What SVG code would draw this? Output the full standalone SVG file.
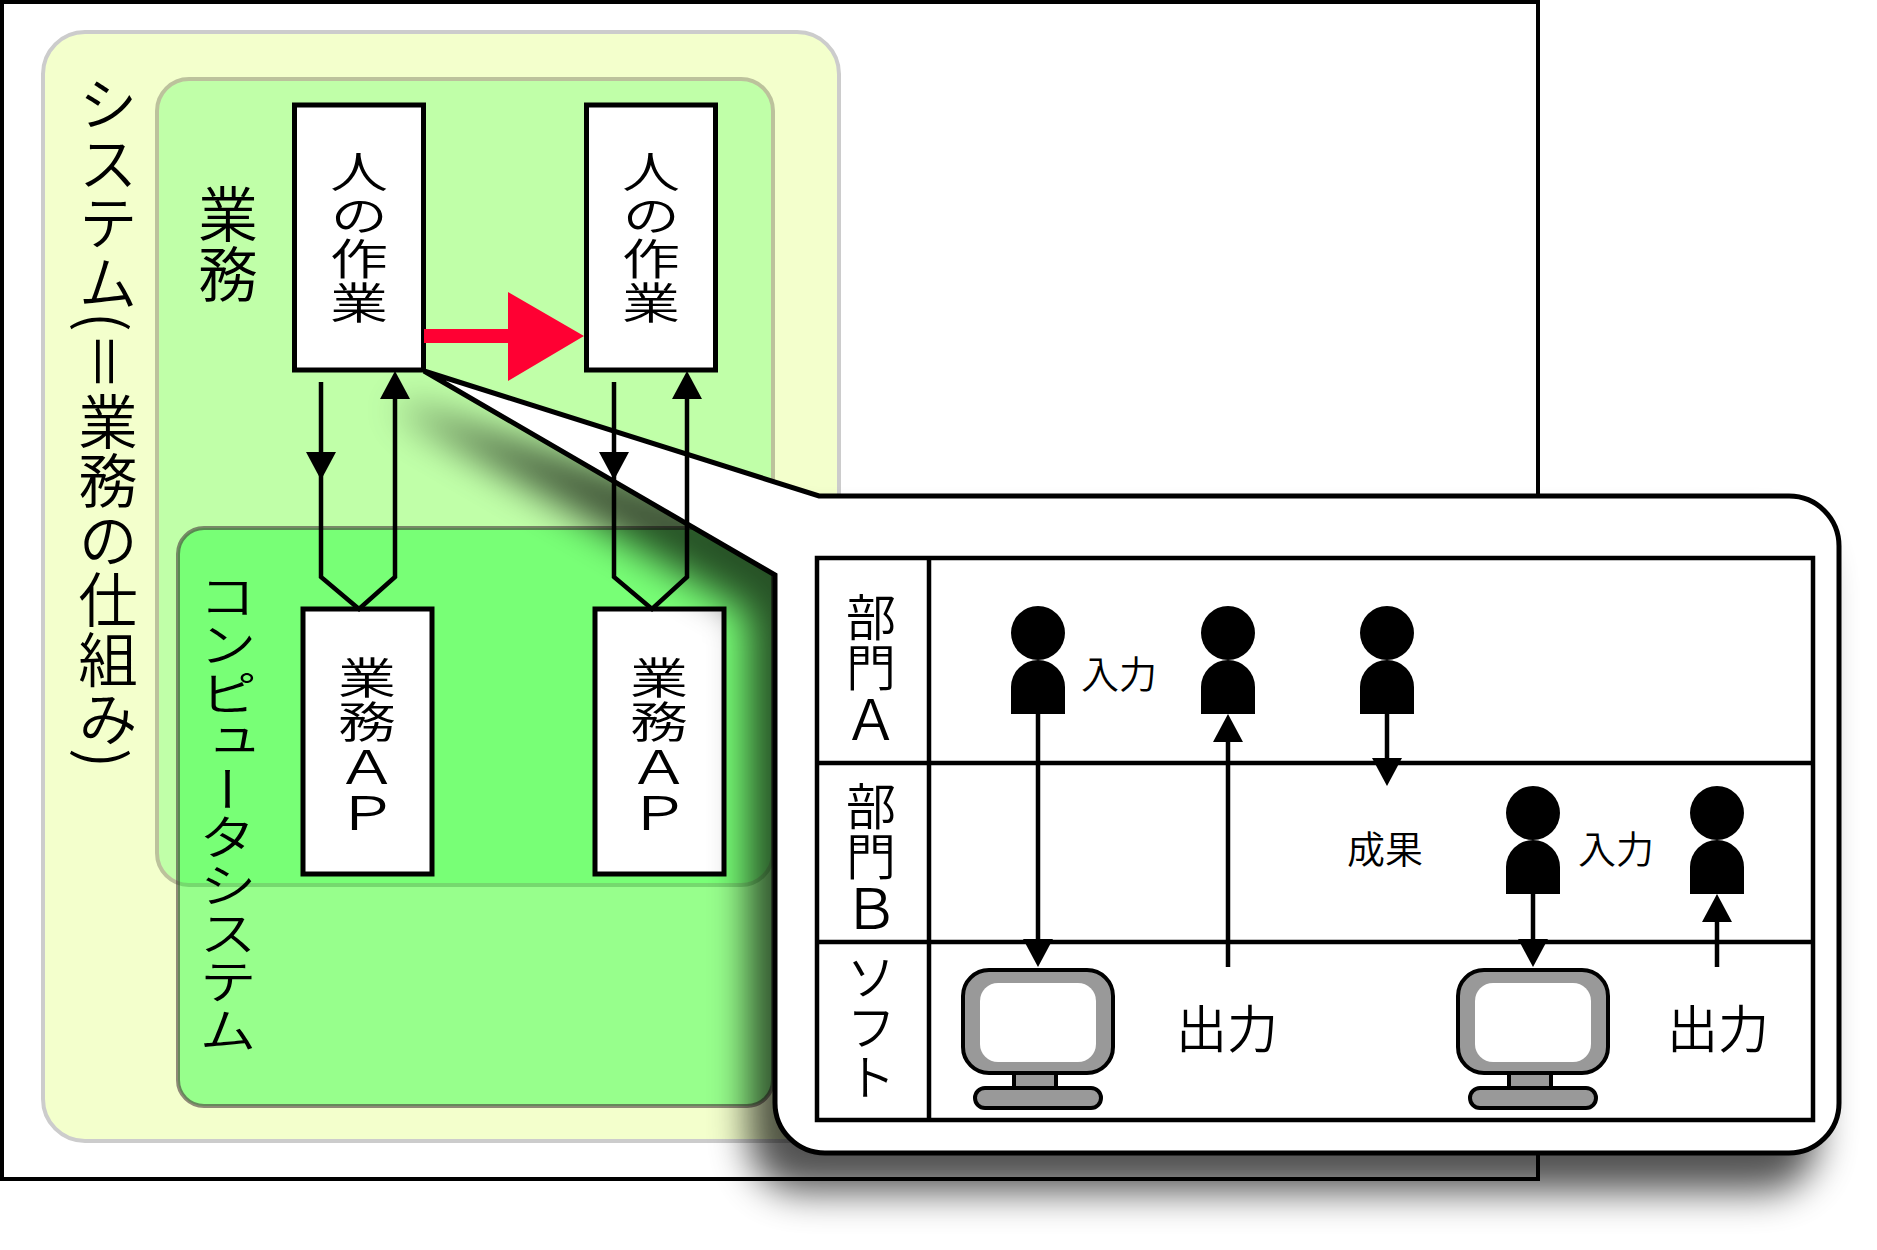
<svg xmlns="http://www.w3.org/2000/svg" width="1877" height="1250" viewBox="0 0 1877 1250">
<style>
text{font-family:"Noto Sans CJK JP","Noto Sans",sans-serif;fill:#000;font-weight:350}
.v{writing-mode:vertical-rl;font-size:50px}
.h{text-anchor:middle}
.box{fill:#fff;stroke:#000;stroke-width:5}
.ln{fill:none;stroke:#000;stroke-width:4.5}
.tb{fill:none;stroke:#000;stroke-width:4.5}
.pc{fill:#999;stroke:#000;stroke-width:4}
</style>
<defs>
<marker id="ah" markerUnits="userSpaceOnUse" markerWidth="32" markerHeight="32" refX="22" refY="15" orient="auto"><path d="M0 0L28 15L0 30Z"/></marker>
<filter id="sh" x="-10%" y="-15%" width="120%" height="135%"><feGaussianBlur in="SourceAlpha" stdDeviation="19"/><feOffset dx="-24" dy="36"/><feComponentTransfer result="s"><feFuncA type="linear" slope=".68"/></feComponentTransfer><feMerge><feMergeNode in="s"/><feMergeNode in="SourceGraphic"/></feMerge></filter>
<g id="person"><circle r="27"/><path d="M-27 81V54A27 27 0 0 1 27 54V81Z"/></g>
<g id="pc">
<rect class="pc" x="-24" y="88" width="42" height="30"/>
<rect class="pc" x="-75" y="0" width="150" height="103" rx="26" ry="26"/>
<rect x="-58" y="13" width="116" height="79" rx="18" fill="#fff"/>
<rect class="pc" x="-63" y="118" width="126" height="20" rx="10"/>
</g>
</defs>
<rect id="frame" x="2" y="2" width="1536" height="1177" fill="#fff" stroke="#000" stroke-width="4"/>
<g id="system"><rect x="43" y="32" width="796" height="1109" rx="42" fill="#f3ffcc" stroke="#ccc" stroke-width="4"/>
<text class="v" x="108" y="74" style="font-size:59.500px">システム(＝業務の仕組み)</text></g>
<g id="gyomu"><rect x="157" y="79" width="616" height="806" rx="32" fill="#c0ffa8" stroke="#bcc29c" stroke-width="4"/>
<text class="v" x="228" y="184" style="font-size:60px">業務</text></g>
<g id="computer"><rect x="178" y="528" width="595" height="578" rx="26" fill="#00ff23" fill-opacity=".375" stroke="#3c2832" stroke-opacity=".55" stroke-width="4"/>
<text class="v" transform="translate(228 572) scale(1 .83)" style="font-size:58px">コンピュータシステム</text></g>
<g id="work1"><rect class="box" x="294.500" y="105" width="129" height="265"/><text class="v" transform="translate(359 150) scale(1 .75)" style="font-size:58px">人の作業</text></g>
<g id="work2"><rect class="box" x="586.500" y="105" width="129" height="265"/><text class="v" transform="translate(651 150) scale(1 .75)" style="font-size:58px">人の作業</text></g>
<g id="ap1"><rect class="box" x="303" y="609" width="129" height="265"/><text class="v" transform="translate(367 656) scale(1 .75)" style="font-size:58px">業務<tspan style="font-size:62px">ＡＰ</tspan></text></g>
<g id="ap2"><rect class="box" x="595" y="609" width="129" height="265"/><text class="v" transform="translate(659 656) scale(1 .75)" style="font-size:58px">業務<tspan style="font-size:62px">ＡＰ</tspan></text></g>
<g id="connectors-left">
<path class="ln" d="M321 382V474" marker-end="url(#ah)"/>
<path class="ln" d="M321 474V577L359 609L395 577V377" marker-end="url(#ah)"/>
<path id="red" fill="#ff0033" d="M424 329H508V292L584 336L508 381V343H424Z"/>
</g>
<g id="callout">
<path filter="url(#sh)" fill="#fff" stroke="#000" stroke-width="5" d="M424 371L819 496H1789A50 50 0 0 1 1839 546V1103A50 50 0 0 1 1789 1153H825A50 50 0 0 1 775 1103V575Z"/>
<rect class="tb" x="817" y="558" width="996" height="562"/>
<path class="tb" d="M929 558V1120M817 763H1813M817 942H1813"/>
<text class="v" x="871" y="592">部門<tspan style="font-size:56px">Ａ</tspan></text>
<text class="v" x="871" y="781">部門<tspan style="font-size:56px">Ｂ</tspan></text>
<text class="v" x="871" y="952">ソフト</text>
</g>
<g id="connectors-right">
<path class="ln" d="M614 382V474" marker-end="url(#ah)"/>
<path class="ln" d="M614 474V577L652 609L687 577V377" marker-end="url(#ah)"/>
</g>
<g id="persons">
<use href="#person" x="1038" y="633"/><use href="#person" x="1228" y="633"/><use href="#person" x="1387" y="633"/>
<use href="#person" x="1533" y="813"/><use href="#person" x="1717" y="813"/>
</g>
<g id="pcs"><use href="#pc" x="1038" y="970"/><use href="#pc" x="1533" y="970"/></g>
<g id="flows">
<path class="ln" d="M1038 714V961" marker-end="url(#ah)"/>
<path class="ln" d="M1228 967V720" marker-end="url(#ah)"/>
<path class="ln" d="M1387 714V780" marker-end="url(#ah)"/>
<path class="ln" d="M1533 894V961" marker-end="url(#ah)"/>
<path class="ln" d="M1717 967V900" marker-end="url(#ah)"/>
</g>
<g id="labels">
<text class="h" x="1119" y="688" font-size="38">入力</text>
<text class="h" x="1385" y="863" font-size="38">成果</text>
<text class="h" x="1616" y="863" font-size="38">入力</text>
<text class="h" x="1227" y="1048" font-size="51">出力</text>
<text class="h" x="1718" y="1048" font-size="51">出力</text>
</g>
</svg>
